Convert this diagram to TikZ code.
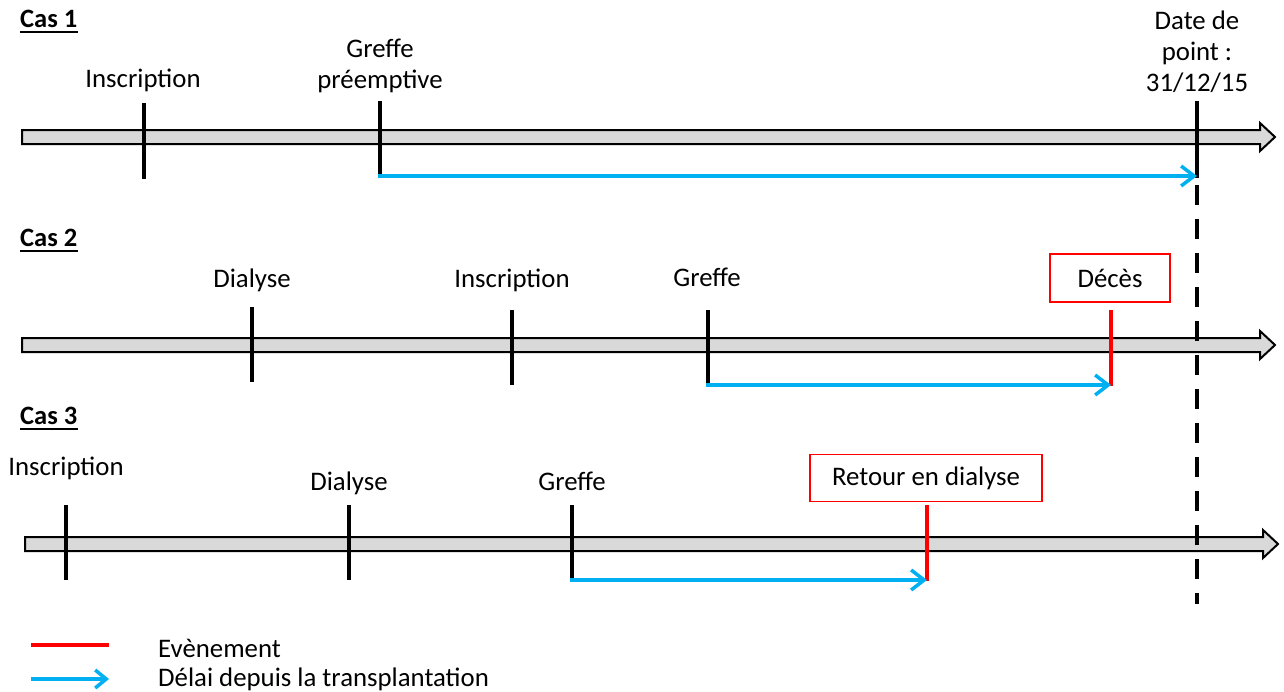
\documentclass[tikz,border=0pt]{standalone}
\usepackage{fontspec}
\setmainfont{Carlito}
\usetikzlibrary{arrows.meta}
\definecolor{tlgray}{HTML}{D9D9D9}
\definecolor{delaiblue}{HTML}{00B0F0}
\definecolor{eventred}{HTML}{FF0000}
\begin{document}
\begin{tikzpicture}[x=1pt,y=-1pt,
  lbl/.style={inner sep=0pt, anchor=base, align=center, font=\fontsize{26.8}{31}\selectfont},
  caslbl/.style={inner sep=0pt, anchor=base west, font=\bfseries\fontsize{26.5}{31}\selectfont},
  leglbl/.style={inner sep=0pt, anchor=base west, font=\fontsize{26.8}{31}\selectfont},
  evbox/.style={draw=eventred, line width=1.5pt, fill=white, inner sep=0pt, font=\fontsize{26.8}{31}\selectfont},
  bar/.style={draw=black, line width=2pt, fill=tlgray, line join=miter},
  tick/.style={draw=black, line width=3.5pt},
  evtick/.style={draw=eventred, line width=4pt},
  delai/.style={draw=delaiblue, line width=3.5pt, -{Straight Barb[length=13pt,width=20pt]}},
  cutoff/.style={draw=black, line width=4pt, dash pattern=on 20pt off 14pt}
]
\useasboundingbox (0,0) rectangle (1284,691);

% ---------- Case 1 ----------
\node[caslbl] (cas1) at (20,27) {Cas 1};
\draw[line width=2pt] ([yshift=-5pt]cas1.south west) -- ([yshift=-5pt]cas1.south east);
\path[bar] (22,130) -- (1260,130) -- (1260,123) -- (1275,137) -- (1260,151) -- (1260,144) -- (22,144) -- cycle;
\node[lbl] (c1insc) at (143,87) {Inscription};
\node[lbl] (c1gref) at (380,88) {Greffe\\préemptive};
\node[lbl] (c1date) at (1197,91) {Date de\\point :\\31/12/15};
\coordinate (c1i1) at (144,103); \coordinate (c1i2) at (144,179);
\coordinate (c1g1) at (380,101); \coordinate (c1g2) at (380,177.75);
\coordinate (c1d1) at (1197,101); \coordinate (c1d2) at (1197,177.75);
\draw[tick] (c1i1) -- (c1i2);
\draw[tick] (c1g1) -- (c1g2);
\draw[tick] (c1d1) -- (c1d2);
\coordinate (c1a) at (378.25,176); \coordinate (c1b) at (1197,176);
\draw[delai] (c1a) -- (c1b);

% ---------- Case 2 ----------
\node[caslbl] (cas2) at (20,246) {Cas 2};
\draw[line width=2pt] ([yshift=-5pt]cas2.south west) -- ([yshift=-5pt]cas2.south east);
\path[bar] (22,338) -- (1260,338) -- (1260,331) -- (1275,345) -- (1260,359) -- (1260,352) -- (22,352) -- cycle;
\node[lbl] (c2dial) at (252,287) {Dialyse};
\node[lbl] (c2insc) at (512,287) {Inscription};
\node[lbl] (c2gref) at (707,286) {Greffe};
\node[evbox, minimum width=120pt, minimum height=48pt] (c2dec) at (1110,278) {Décès};
\draw[tick] (252,307) -- (252,382);
\draw[tick] (512,310) -- (512,385);
\coordinate (c2g1) at (708,310); \coordinate (c2g2) at (708,386.75);
\draw[tick] (c2g1) -- (c2g2);
\coordinate (c2e1) at (1111,310); \coordinate (c2e2) at (1111,386);
\draw[evtick] (c2e1) -- (c2e2);
\coordinate (c2a) at (706.25,385); \coordinate (c2b) at (1111,385);
\draw[delai] (c2a) -- (c2b);

% ---------- Case 3 ----------
\node[caslbl] (cas3) at (20,424) {Cas 3};
\draw[line width=2pt] ([yshift=-5pt]cas3.south west) -- ([yshift=-5pt]cas3.south east);
\path[bar] (25,537) -- (1263,537) -- (1263,530) -- (1278,544) -- (1263,558) -- (1263,551) -- (25,551) -- cycle;
\node[lbl] (c3insc) at (66,475) {Inscription};
\node[lbl] (c3dial) at (349,490) {Dialyse};
\node[lbl] (c3gref) at (572,490) {Greffe};
\node[evbox, minimum width=232pt, minimum height=47pt] (c3ret) at (926,478) {Retour en dialyse};
\draw[tick] (66,505) -- (66,580);
\draw[tick] (349,505) -- (349,580);
\coordinate (c3g1) at (572,505); \coordinate (c3g2) at (572,581.75);
\draw[tick] (c3g1) -- (c3g2);
\coordinate (c3e1) at (927,505); \coordinate (c3e2) at (927,581);
\draw[evtick] (c3e1) -- (c3e2);
\coordinate (c3a) at (570.25,580); \coordinate (c3b) at (927,580);
\draw[delai] (c3a) -- (c3b);

% ---------- cut-off date ----------
\coordinate (cut1) at (1197,185); \coordinate (cut2) at (1197,604);
\draw[cutoff] (cut1) -- (cut2);

% ---------- Legend ----------
\coordinate (lr1) at (31,645); \coordinate (lr2) at (109,645);
\draw[draw=eventred, line width=4pt] (lr1) -- (lr2);
\coordinate (lb1) at (31,679); \coordinate (lb2) at (109,679);
\draw[draw=delaiblue, line width=3.5pt, -{Straight Barb[length=11pt,width=18pt]}] (lb1) -- (lb2);
\node[leglbl] (leg1) at (158,657) {Evènement};
\node[leglbl] (leg2) at (158,686) {Délai depuis la transplantation};
\end{tikzpicture}
\end{document}
